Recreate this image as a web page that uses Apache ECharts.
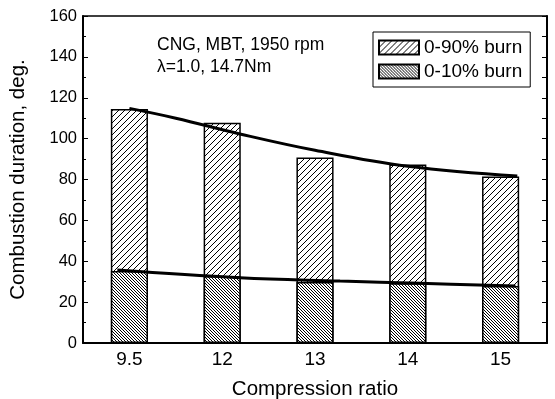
<!DOCTYPE html>
<html>
<head>
<meta charset="utf-8">
<script src="https://cdn.jsdelivr.net/npm/echarts@6/dist/echarts.min.js"></script>
<style>html,body{margin:0;padding:0;background:#fff}#c{width:555px;height:399px}</style>
</head>
<body>
<div id="c"></div>
<script>
// ---- data ----
var categories = ['9.5', '12', '13', '14', '15'];
var burn90 = [114.5, 107.8, 90.8, 87.4, 81.5];
var burn10 = [35.2, 32.8, 29.8, 29.2, 27.9];
// fitted curves: position along category slots (0..5) and value
var fit90Pos = [0.5, 1.0, 1.69, 2.5, 3.5, 4.68];
var fit90Val = [114.8, 110.0, 102.3, 94.3, 86.5, 81.7];
var fit10Pos = [0.37, 1.69, 2.77, 3.63, 4.66];
var fit10Val = [35.7, 31.9, 30.3, 29.2, 27.9];
var yTicks = [0, 20, 40, 60, 80, 100, 120, 140, 160];

function hatch(step, dir) {
  var size = step * 2;
  var c = document.createElement('canvas');
  c.width = size; c.height = size;
  var g = c.getContext('2d');
  var img = g.createImageData(size, size);
  for (var y = 0; y < size; y++) {
    for (var x = 0; x < size; x++) {
      var k = dir === '/' ? (x + y) % step : ((x - y) % step + step) % step;
      var v = k === 0 ? 0 : 255;
      var i = (y * size + x) * 4;
      img.data[i] = v; img.data[i + 1] = v; img.data[i + 2] = v; img.data[i + 3] = 255;
    }
  }
  g.putImageData(img, 0, 0);
  return c;
}
var pat90 = { image: hatch(6, '/'), repeat: 'repeat' };
var pat10 = { image: hatch(3, '\\'), repeat: 'repeat' };

function pairs(xs, ys) { return xs.map(function (x, i) { return [x, ys[i]]; }); }

var FONT = 'Liberation Sans';
var chart = echarts.init(document.getElementById('c'), null, { renderer: 'canvas' });
chart.setOption({
  animation: false,
  textStyle: { fontFamily: FONT, color: '#000' },
  grid: { left: 83, right: 8, top: 16, bottom: 56, outerBoundsMode: 'none', containLabel: false },
  legend: {
    orient: 'vertical', left: 373, top: 32,
    borderColor: '#000', borderWidth: 1, padding: [6, 8, 6, 5],
    itemWidth: 40, itemHeight: 14, itemGap: 5,
    textStyle: { fontSize: 19, fontFamily: FONT, color: '#000' },
    data: [{ name: '0-90% burn', icon: 'rect' }, { name: '0-10% burn', icon: 'rect' }]
  },
  xAxis: [{
    type: 'category', data: categories,
    axisLine: { lineStyle: { color: '#000', width: 2 } },
    axisTick: { show: false },
    axisLabel: { fontSize: 19, color: '#000', margin: 7 },
    name: 'Compression ratio', nameLocation: 'middle', nameGap: 36,
    nameTextStyle: { fontSize: 20.5, color: '#000' }
  }, {
    type: 'value', min: 0, max: 5, position: 'top',
    axisLine: { show: true, onZero: false, lineStyle: { color: '#000', width: 1.5 } },
    axisTick: { show: false }, axisLabel: { show: false }, splitLine: { show: false }
  }],
  yAxis: [{
    type: 'value', min: 0, max: 160, interval: 20,
    axisLine: { show: true, lineStyle: { color: '#000', width: 2 } },
    axisTick: { show: true, inside: true, length: 5, lineStyle: { color: '#000' } },
    minorTick: { show: true, splitNumber: 2, length: 3, lineStyle: { color: '#000' } },
    splitLine: { show: false },
    axisLabel: { fontSize: 16.5, color: '#000', margin: 6,
      formatter: function (v) { return yTicks.indexOf(v) >= 0 ? String(v) : ''; } },
    name: 'Combustion duration, deg.', nameLocation: 'middle', nameGap: 54,
    nameTextStyle: { fontSize: 20.5, color: '#000' }
  }, {
    type: 'value', min: 0, max: 160, interval: 10, position: 'right',
    axisLine: { show: true, lineStyle: { color: '#000', width: 2 } },
    axisTick: { show: true, inside: true, length: 5, lineStyle: { color: '#000' } },
    axisLabel: { show: false }, splitLine: { show: false }
  }],
  graphic: [{
    type: 'text', left: 157, top: 34,
    style: { text: 'CNG, MBT, 1950 rpm\nλ=1.0, 14.7Nm', fontSize: 17.5, lineHeight: 22,
      fontFamily: FONT, fill: '#000' }
  }],
  series: [{
    name: '0-90% burn', type: 'bar', data: burn90, barWidth: '40%', barGap: '-100%',
    itemStyle: { color: pat90, borderColor: '#000', borderWidth: 1.5 }
  }, {
    name: '0-10% burn', type: 'bar', data: burn10, barWidth: '40%', barGap: '-100%',
    itemStyle: { color: pat10, borderColor: '#000', borderWidth: 1.5 }
  }, {
    name: 'fit90', type: 'line', xAxisIndex: 1, yAxisIndex: 0, smooth: 0.4,
    data: pairs(fit90Pos, fit90Val), showSymbol: false, symbol: 'none',
    lineStyle: { color: '#000', width: 3 }, z: 5
  }, {
    name: 'fit10', type: 'line', xAxisIndex: 1, yAxisIndex: 0, smooth: 0.4,
    data: pairs(fit10Pos, fit10Val), showSymbol: false, symbol: 'none',
    lineStyle: { color: '#000', width: 3 }, z: 5
  }]
});
</script>
</body>
</html>
